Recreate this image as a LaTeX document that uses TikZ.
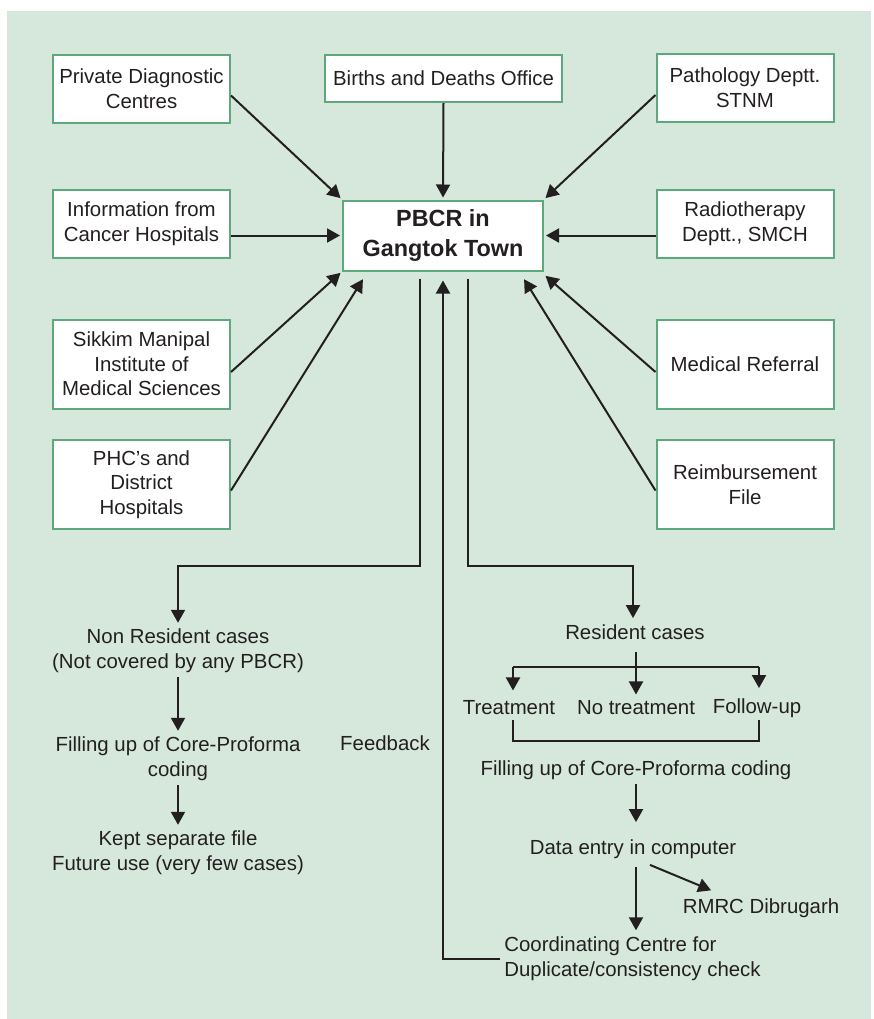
\documentclass[tikz,border=0pt]{standalone}
\usepackage{fontspec}
\setmainfont{Liberation Sans}
\usetikzlibrary{arrows.meta}
\definecolor{bggreen}{RGB}{214,232,220}
\definecolor{boxgreen}{RGB}{92,170,124}
\definecolor{ink}{RGB}{35,31,32}

\begin{document}
\begin{tikzpicture}[x=0.5pt,y=-0.5pt,
  every node/.style={text=ink,font=\fontsize{10.2}{12.3}\selectfont},
  srcbox/.style={draw=boxgreen,line width=1pt,fill=white,align=center,
                 minimum width=88.5pt,minimum height=34pt,inner sep=2pt},
  tallbox/.style={srcbox,minimum height=44.5pt},
  txt/.style={align=center,inner sep=2pt},
  plain/.style={draw=ink,line width=1pt},
  flow/.style={plain,-{Triangle[length=6.5pt,width=7pt]},shorten >=1pt}]
\useasboundingbox (0,0) rectangle (874,1019);
\fill[white] (0,0) rectangle (874,1019);
\fill[bggreen] (7,11) rectangle (871,1019);

% sources
\node[srcbox] (pdc) at (141.5,88.5) {Private Diagnostic\\Centres};
\node[srcbox,minimum width=118.5pt,minimum height=23.5pt] (bdo) at (443.5,78.5) {Births and Deaths Office};
\node[srcbox] (stnm) at (745,88) {Pathology Deptt.\\STNM};
\node[srcbox] (info) at (141.5,224) {Information from\\Cancer Hospitals};
\node[srcbox,minimum width=100pt,minimum height=35pt,
      font=\bfseries\fontsize{11.7}{15}\selectfont] (pbcr) at (443,235.5) {PBCR in\\Gangtok Town};
\node[srcbox] (radio) at (745,224) {Radiotherapy\\Deptt., SMCH};
\node[tallbox] (smims) at (141.5,364) {Sikkim Manipal\\Institute of\\Medical Sciences};
\node[tallbox] (medref) at (745,364) {Medical Referral};
\node[tallbox] (phc) at (141.5,484.5) {PHC's and\\District\\Hospitals};
\node[tallbox] (reimb) at (745,484.5) {Reimbursement\\File};

\draw[flow] ([yshift=-3.5pt]pdc.east) -- (pbcr.north west);
\draw[flow] (bdo.south) -- (pbcr.north);
\draw[flow] ([yshift=-3.5pt]stnm.west) -- (pbcr.north east);
\draw[flow] (info.east |- pbcr.west) -- (pbcr.west);
\draw[flow] (radio.west |- pbcr.east) -- (pbcr.east);
\draw[flow] ([yshift=-4pt]smims.east) -- (pbcr.south west);
\draw[flow] ([yshift=-3pt]phc.east) -- ([xshift=11pt,yshift=-3pt]pbcr.south west);
\draw[flow] ([yshift=-4pt]medref.west) -- ([yshift=-1.5pt]pbcr.south east);
\draw[flow] ([yshift=-3pt]reimb.west) -- ([xshift=-10.5pt,yshift=-3pt]pbcr.south east);

% non resident branch
\coordinate (lturn) at (178,566);
\node[txt] (nonres) at (178,651) {Non Resident cases\\(Not covered by any PBCR)};
\node[txt] (fillL) at (178,759) {Filling up of Core-Proforma\\coding};
\node[txt] (kept) at (178,853) {Kept separate file\\Future use (very few cases)};
\node[txt] (fb) at (385,743) {Feedback};

\draw[flow] ([xshift=-11.5pt,yshift=-3.5pt]pbcr.south) |- (lturn) -- (nonres.north);
\draw[flow] (nonres.south) -- (fillL.north);
\draw[flow] (fillL.south) -- (kept.north);

% resident branch
\coordinate (rturn) at (633,566);
\coordinate (bl) at (513,667);
\coordinate (br) at (759,667);
\coordinate (bb) at (636,741);
\node[txt] (res) at (635,632) {Resident cases};
\node[txt] (treat) at (509,708) {Treatment};
\node[txt] (notr) at (636,708) {No treatment};
\node[txt] (follow) at (757,708) {Follow-up};
\node[txt] (fillR) at (636,770) {Filling up of Core-Proforma coding};
\node[txt] (data) at (633,849) {Data entry in computer};
\node[txt] (rmrc) at (761,908) {RMRC Dibrugarh};
\node[txt,anchor=west,align=left] (coord) at (500,958.5) {Coordinating Centre for\\Duplicate/consistency check};

\draw[flow] ([xshift=12.5pt,yshift=-3.5pt]pbcr.south) |- (rturn) -- (rturn |- res.north);
\draw[flow] ([yshift=-4pt]notr.north |- res.south) -- (notr.north);
\draw[plain] (bl) -- (br);
\draw[flow,shorten >=3pt] (bl) -- (bl |- treat.north);
\draw[flow,shorten >=3pt] (br) -- (br |- follow.north);
\draw[plain] (bl |- treat.south) |- (bb) -| (br |- treat.south);
\draw[flow,shorten >=6.5pt] (fillR.south) -- (fillR.south |- data.north);
\draw[flow] ([yshift=-2pt]fillR.south |- data.south) -- (fillR.south |- coord.north);
\draw[flow] ([xshift=8.5pt,yshift=-1pt]data.south) -- ([xshift=-24pt,yshift=1.5pt]rmrc.north);

% feedback loop
\draw[flow] (coord.west) -| ([yshift=-3.5pt]pbcr.south);
\end{tikzpicture}
\end{document}
